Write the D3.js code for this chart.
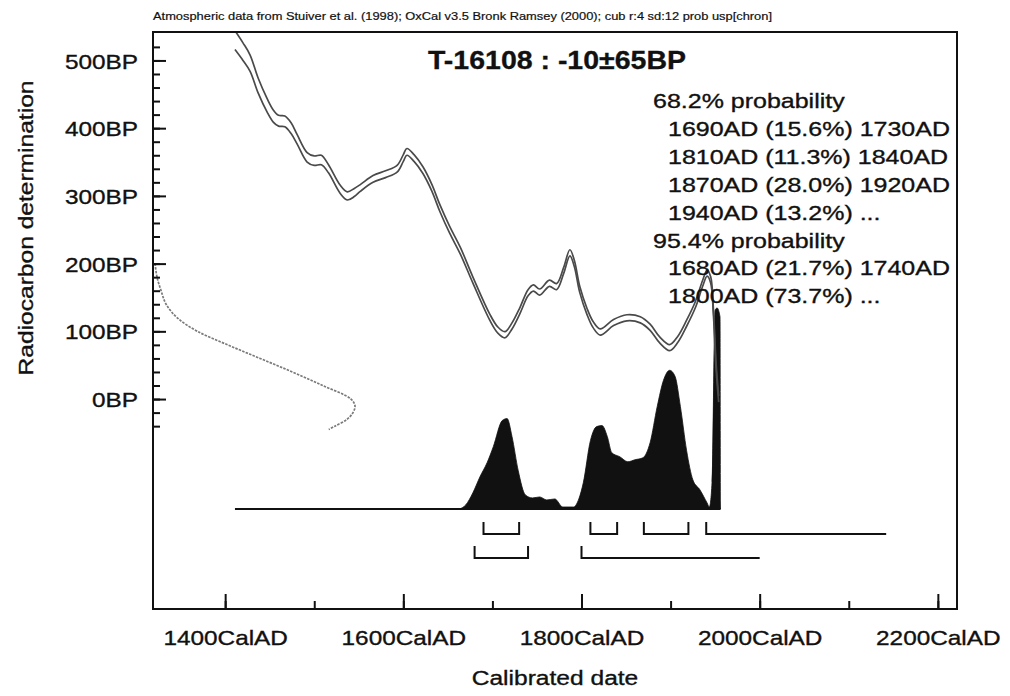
<!DOCTYPE html>
<html><head><meta charset="utf-8">
<script src="https://cdn.jsdelivr.net/npm/d3@7"></script>
<style>
html,body{margin:0;padding:0;background:#fff;}
svg{display:block;font-family:"Liberation Sans",Arial,sans-serif;}
</style></head><body>
<svg id="chart" width="1010" height="696"></svg>
<script>
// ---------- texts ----------
const headerText = "Atmospheric data from Stuiver et al. (1998); OxCal v3.5 Bronk Ramsey (2000); cub r:4 sd:12 prob usp[chron]";
const titleText = "T-16108 : -10\u00B165BP";
const xAxisTitle = "Calibrated date";
const yAxisTitle = "Radiocarbon determination";
const head68 = "68.2% probability";
const lines68 = ["1690AD (15.6%) 1730AD", "1810AD (11.3%) 1840AD", "1870AD (28.0%) 1920AD", "1940AD (13.2%) ..."];
const head95 = "95.4% probability";
const lines95 = ["1680AD (21.7%) 1740AD", "1800AD (73.7%) ..."];

// ---------- ticks ----------
const xMajorTicks = [1400, 1600, 1800, 2000, 2200];
const xMinorTicks = [1400, 1500, 1600, 1700, 1800, 1900, 2000, 2100, 2200];
const yMajorTicks = [0, 100, 200, 300, 400, 500];
const yMinorTicks = [-40, -20, 0, 20, 40, 60, 80, 100, 120, 140, 160, 180, 200, 220, 240, 260, 280, 300, 320, 340, 360, 380, 400, 420, 440, 460, 480, 500, 520];

// ---------- calibration curve (cal AD, BP mean, BP sigma) ----------
const curveYears = [1411,1420,1428,1437,1447,1454,1460,1467,1474,1481,1492,1500,1508,1516,1529,1537,1545,1552,1566,1580,1593,1600,1604,1612,1622,1632,1641,1652,1664,1678,1697,1706,1714,1722,1731,1740,1746,1753,1764,1772,1780,1787,1792,1798,1806,1813,1821,1836,1851,1866,1877,1888,1899,1908,1918,1928,1936,1941,1945,1948,1951,1954];
const curveBP =    [530, 513, 496, 463, 434, 418, 411, 410, 400, 383, 357, 352, 353, 340, 310, 300, 305, 312, 325, 332, 340, 356, 365, 356, 338, 312, 282, 250, 219, 176, 121, 102, 95, 108, 131, 157, 164, 158, 171, 166, 190, 216, 200, 162, 130, 110, 99, 113, 120, 117, 106, 87, 76, 88, 112, 140, 171, 186, 176, 130, 50, 0];
const curveSigma = [14, 13, 12, 11, 10, 9, 8, 8, 8, 7, 7, 7, 7, 6, 6, 6, 6, 5, 5, 5, 5, 5, 5, 5, 5, 5, 5, 5, 5, 4.5, 4.5, 4.5, 4.5, 4.5, 4.5, 4.5, 4.5, 4.5, 4.5, 4.5, 4.5, 4.5, 4.5, 4.5, 4.5, 4.5, 4.5, 4.5, 4.5, 4.5, 4.5, 4.5, 4.5, 4.5, 4.5, 4.5, 4.5, 4.5, 4.5, 4.5, 4.5, 4.5];

// ---------- radiocarbon measurement distribution (BP, relative prob) ----------
const measBP =   [200, 180, 160, 140, 120, 100, 80, 60, 40, 20, 0, -10, -20, -30, -40, -45];
const measProb = [0.01, 0.02, 0.04, 0.065, 0.12, 0.22, 0.37, 0.53, 0.69, 0.84, 0.98, 1.0, 0.99, 0.96, 0.9, 0.87];

// ---------- calibrated probability distribution (cal AD, relative prob) ----------
const densYears = [1663,1670,1678,1686,1694,1701,1711,1716.5,1722,1729,1737,1745,1753,1761,1770,1779,1791,1797,1802,1810,1817,1823,1829,1834,1843,1852,1860,1869,1877,1885,1892,1899,1905,1911,1918,1925,1933,1941,1943.5,1946.5,1950,1952.2,1955.5,1956];
const densProb  = [0, 0.02, 0.08, 0.16, 0.23, 0.31, 0.44, 0.45, 0.36, 0.19, 0.07, 0.055, 0.06, 0.045, 0.05, 0.01, 0.01, 0.05, 0.13, 0.34, 0.41, 0.415, 0.36, 0.28, 0.26, 0.235, 0.245, 0.255, 0.33, 0.51, 0.64, 0.69, 0.66, 0.51, 0.29, 0.145, 0.095, 0.03, 0.01, 0.13, 0.99, 1.0, 0.955, 0];

// ---------- ranges ----------
const range68From = [1690, 1810, 1870, 1940];
const range68To   = [1730, 1840, 1920, 2142];
const range68Open = [false, false, false, true];
const range95From = [1680, 1800];
const range95To   = [1740, 2000];
const range95Open = [false, true];

// ---------- layout ----------
const svg = d3.select("#chart");
const L = 153, R = 957, T = 32, B = 609;
const FONT = '"Liberation Sans", Arial, sans-serif';
const SX = 1.16; // horizontal stretch of the scanned type
const INK = "#111";

const x = d3.scaleLinear().domain([1319, 2221.5]).range([L, R]);
const y = d3.scaleLinear().domain([-310, 542]).range([B, T]);
const yDens = d3.scaleLinear().domain([0, 1]).range([509, 308]);
const xMeas = d3.scaleLinear().domain([0, 1]).range([L, 355]);

svg.append("rect").attr("width", 1010).attr("height", 696).attr("fill", "#fff");

svg.append("defs").append("clipPath").attr("id", "plotclip")
  .append("rect").attr("x", L).attr("y", T).attr("width", R - L).attr("height", B - T);

const plot = svg.append("g").attr("clip-path", "url(#plotclip)");

// measurement distribution on y axis
const measData = measBP.map((b, i) => ({ bp: b, p: measProb[i] }));
plot.append("path")
  .datum(measData)
  .attr("fill", "none")
  .attr("stroke", "#7a7a7a")
  .attr("stroke-width", 1.7)
  .attr("stroke-dasharray", "2.5,1.2")
  .attr("d", d3.line().x(d => xMeas(d.p)).y(d => y(d.bp)).curve(d3.curveCatmullRom.alpha(0.5)));

// calibrated distribution
const densData = densYears.map((yr, i) => ({ yr, p: densProb[i] }));
plot.append("path")
  .datum(densData)
  .attr("fill", INK)
  .attr("stroke", INK)
  .attr("stroke-width", 0.8)
  .attr("d", d3.area().x(d => x(d.yr)).y0(yDens(0)).y1(d => yDens(d.p)).curve(d3.curveMonotoneX));

// baseline of distribution
plot.append("line")
  .attr("x1", x(curveYears[0])).attr("x2", x(densYears[densYears.length - 1]))
  .attr("y1", yDens(0)).attr("y2", yDens(0))
  .attr("stroke", INK).attr("stroke-width", 2);

// calibration curve (double line)
const curveData = curveYears.map((yr, i) => ({ yr, bp: curveBP[i], s: curveSigma[i] }));
[1, -1].forEach(sign => {
  plot.append("path")
    .datum(curveData)
    .attr("fill", "none")
    .attr("stroke", "#4a4a4a")
    .attr("stroke-width", 1.7)
    .attr("d", d3.line().x(d => x(d.yr)).y(d => y(d.bp + sign * d.s)).curve(d3.curveCatmullRom.alpha(0.5)));
});

// range brackets
function drawRanges(from, to, open, rowY) {
  from.forEach((f, i) => {
    let p = `M${x(f)},${rowY - 12}V${rowY}H${x(to[i])}`;
    if (!open[i]) p += `V${rowY - 12}`;
    svg.append("path").attr("d", p).attr("fill", "none")
      .attr("stroke", INK).attr("stroke-width", 2);
  });
}
drawRanges(range68From, range68To, range68Open, 534);
drawRanges(range95From, range95To, range95Open, 558);

// axes
function styleAxis(g) {
  g.select(".domain").remove();
  g.selectAll(".tick line").attr("stroke", INK).attr("stroke-width", 2);
  g.attr("font-family", FONT).attr("font-size", 21);
  g.selectAll(".tick text").attr("fill", INK).attr("stroke", INK).attr("stroke-width", 0.35);
}
svg.append("g").attr("transform", `translate(0,${B})`)
  .call(d3.axisBottom(x).tickValues(xMinorTicks).tickSize(-8).tickFormat(() => ""))
  .call(styleAxis);
const xMaj = svg.append("g").attr("transform", `translate(0,${B})`)
  .call(d3.axisBottom(x).tickValues(xMajorTicks).tickSize(-15).tickPadding(21).tickFormat(d => d + "CalAD"))
  .call(styleAxis);
xMaj.selectAll(".tick text").attr("transform", `scale(${SX},1)`);

svg.append("g").attr("transform", `translate(${L},0)`)
  .call(d3.axisLeft(y).tickValues(yMinorTicks).tickSize(-7).tickFormat(() => ""))
  .call(styleAxis);
const yMaj = svg.append("g").attr("transform", `translate(${L},0)`)
  .call(d3.axisLeft(y).tickValues(yMajorTicks).tickSize(-13).tickPadding(15 / SX).tickFormat(d => d + "BP"))
  .call(styleAxis);
yMaj.selectAll(".tick text").attr("transform", `scale(${SX},1)`).attr("dy", "0.36em");

// frame
svg.append("rect").attr("x", L).attr("y", T).attr("width", R - L).attr("height", B - T)
  .attr("fill", "none").attr("stroke", INK).attr("stroke-width", 2);

// texts
function txt(str, tx, ty, opts = {}) {
  return svg.append("text")
    .attr("transform", `translate(${tx},${ty})${opts.rot ? ` rotate(${opts.rot})` : ""} scale(${opts.sx || SX},1)`)
    .attr("font-family", FONT)
    .attr("font-size", opts.size || 21)
    .attr("font-weight", opts.bold ? "bold" : "normal")
    .attr("text-anchor", opts.anchor || "start")
    .attr("fill", INK)
    .attr("stroke", INK)
    .attr("stroke-width", opts.bold ? 0.3 : 0.35)
    .text(str);
}
svg.append("text")
  .attr("x", L).attr("y", 20)
  .attr("font-family", FONT).attr("font-size", 11)
  .attr("textLength", 619).attr("lengthAdjust", "spacingAndGlyphs")
  .attr("fill", INK).attr("stroke", INK).attr("stroke-width", 0.2)
  .text(headerText);

txt(titleText, 557, 69, { size: 25, bold: true, anchor: "middle", sx: 1.14 });

const lh = 27.86, y0 = 108.3;
txt(head68, 653, y0, { sx: 1.19 });
lines68.forEach((s, i) => txt(s, 668, y0 + lh * (i + 1), { sx: 1.19 }));
txt(head95, 653, y0 + lh * 5, { sx: 1.19 });
lines95.forEach((s, i) => txt(s, 668, y0 + lh * (i + 6), { sx: 1.19 }));

txt(xAxisTitle, (L + R) / 2, 685, { anchor: "middle", sx: 1.17 });
txt(yAxisTitle, 33, 228, { anchor: "middle", rot: -90, sx: 1.17 });
</script>
</body></html>
